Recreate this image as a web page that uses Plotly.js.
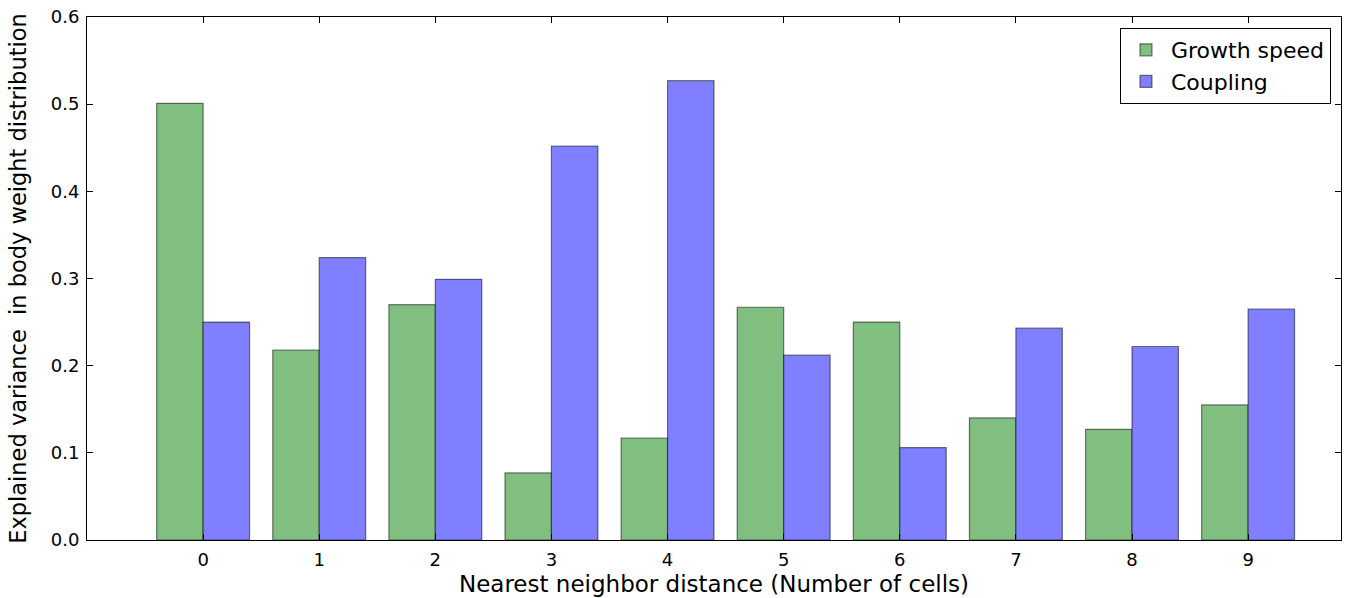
<!DOCTYPE html>
<html>
<head>
<meta charset="utf-8">
<script src="https://cdn.plot.ly/plotly-3.0.1.min.js"></script>
<style>html,body{margin:0;padding:0;background:#fff;}#chart{width:1346px;height:598px;}</style>
</head>
<body>
<div id="chart"></div>
<script>
const categories = [0, 1, 2, 3, 4, 5, 6, 7, 8, 9];
const growthSpeed = [0.501, 0.218, 0.270, 0.077, 0.117, 0.267, 0.250, 0.140, 0.127, 0.155];
const coupling = [0.250, 0.324, 0.299, 0.452, 0.527, 0.212, 0.106, 0.243, 0.222, 0.265];
const yTicks = [0.0, 0.1, 0.2, 0.3, 0.4, 0.5, 0.6];

const font = "DejaVu Sans, sans-serif";
const traces = [
  {type: 'bar', name: 'Growth speed', x: categories, y: growthSpeed,
   marker: {color: '#80bf80', line: {color: 'rgba(0,0,0,0.5)', width: 1.2}}},
  {type: 'bar', name: 'Coupling', x: categories, y: coupling,
   marker: {color: '#7f7fff', line: {color: 'rgba(0,0,0,0.5)', width: 1.2}}}
];
const axisCommon = {
  showline: true, linecolor: '#000', linewidth: 1, mirror: 'allticks',
  ticks: 'inside', ticklen: 6, tickcolor: '#000', tickwidth: 1,
  showgrid: false, zeroline: false, ticklabelstandoff: 3,
  tickfont: {family: font, size: 18, color: '#000'}
};
const layout = {
  width: 1346, height: 598,
  margin: {l: 87, r: 5, t: 17, b: 58},
  paper_bgcolor: '#fff', plot_bgcolor: '#fff',
  barmode: 'group', bargap: 0.2, bargroupgap: 0,
  showlegend: true,
  legend: {x: 0.992, y: 0.979, xanchor: 'right', yanchor: 'top',
    bordercolor: '#000', borderwidth: 1, bgcolor: '#fff', itemwidth: 40,
    font: {family: font, size: 22, color: '#000'}},
  xaxis: Object.assign({}, axisCommon, {
    range: [-1, 9.8], tickmode: 'array', tickvals: categories,
    ticktext: categories.map(String),
    title: {text: 'Nearest neighbor distance (Number of cells)', font: {family: font, size: 23, color: '#000'}, standoff: 7}
  }),
  yaxis: Object.assign({}, axisCommon, {
    range: [0, 0.6], tickmode: 'array', tickvals: yTicks,
    ticktext: yTicks.map(v => v.toFixed(1)),
    title: {text: 'Explained variance  in body weight distribution', font: {family: font, size: 22.5, color: '#000'}, standoff: 17}
  })
};
Plotly.newPlot('chart', traces, layout, {displayModeBar: false, staticPlot: true});
</script>
</body>
</html>
